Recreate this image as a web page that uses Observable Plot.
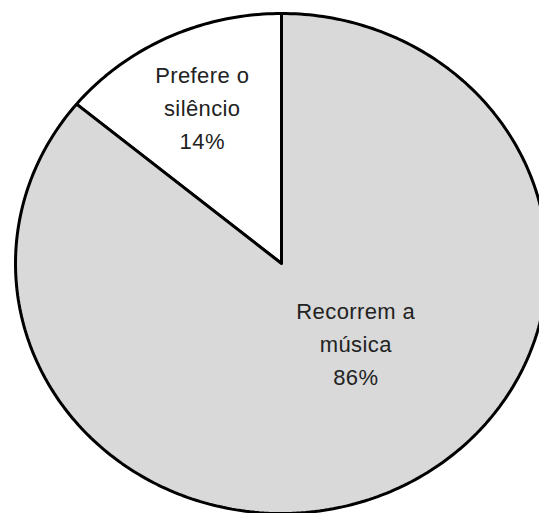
<!DOCTYPE html>
<html>
<head>
<meta charset="utf-8">
<script src="https://cdn.jsdelivr.net/npm/d3@7"></script>
<script src="https://cdn.jsdelivr.net/npm/@observablehq/plot@0.6"></script>
<style>
  html, body { margin: 0; padding: 0; background: #fff; overflow: hidden; }
</style>
</head>
<body>
<div id="chart"></div>
<script>
const categories = ["Prefere o silêncio", "Recorrem a música"];
const values = [14, 86];
const labels = ["Prefere o\nsilêncio\n14%", "Recorrem a\nmúsica\n86%"];
const sliceColors = ["#ffffff", "#d9d9d9"];

// Pie layout: starts at top, runs counterclockwise
const arcs = d3.pie().sort(null).value(d => d)(values);

const slicePts = [];
arcs.forEach((a, i) => {
  const n = Math.max(2, Math.ceil((a.endAngle - a.startAngle) / (Math.PI * 2) * 360));
  slicePts.push({category: categories[i], x: 0, y: 0});
  for (let k = 0; k <= n; k++) {
    const t = a.startAngle + (a.endAngle - a.startAngle) * k / n;
    slicePts.push({category: categories[i], x: -Math.sin(t), y: Math.cos(t)});
  }
  slicePts.push({category: categories[i], x: 0, y: 0});
});

const labelPts = arcs.map((a, i) => {
  const m = (a.startAngle + a.endAngle) / 2;
  return {category: categories[i], label: labels[i], x: -Math.sin(m) * 0.7, y: Math.cos(m) * 0.7};
});

const chart = Plot.plot({
  width: 539,
  height: 513,
  margin: 0,
  x: {domain: [-1, 1], range: [15, 547], axis: null},
  y: {domain: [-1, 1], range: [513, 13], axis: null},
  style: {background: "#fff", fontFamily: "'Liberation Sans', Arial, sans-serif", overflow: "hidden", letterSpacing: "0.4px"},
  marks: categories.map((c, i) =>
    Plot.line(slicePts.filter(d => d.category === c), {
      x: "x", y: "y", fill: sliceColors[i], stroke: "#000", strokeWidth: 3,
      strokeLinejoin: "miter", clip: true
    })
  ).concat([
    Plot.text(labelPts.filter(d => d.category === categories[0]), {
      x: "x", y: "y", text: "label", fontSize: 22, lineHeight: 1.5, fill: "#222"
    }),
    Plot.text(labelPts.filter(d => d.category === categories[1]), {
      x: "x", y: "y", text: "label", fontSize: 22, lineHeight: 1.5, fill: "#222", dx: -5, dy: -80
    })
  ])
});
document.getElementById("chart").appendChild(chart);
</script>
</body>
</html>
